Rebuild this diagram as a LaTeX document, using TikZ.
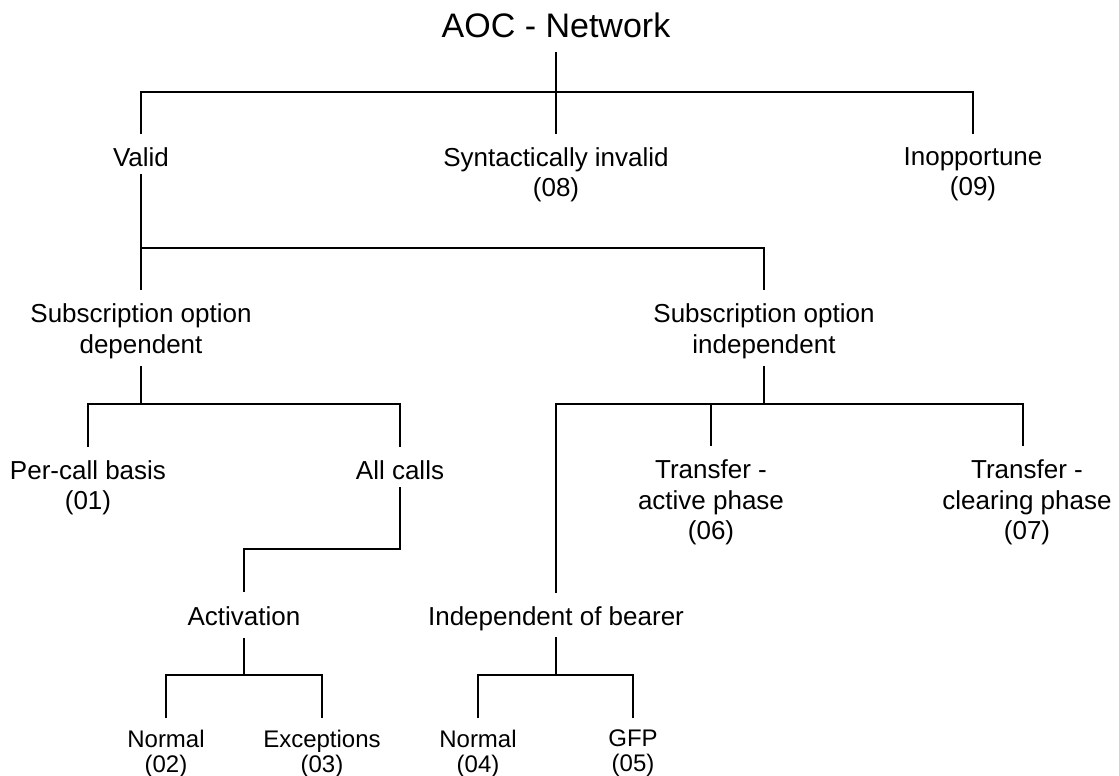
\documentclass[tikz,border=0pt]{standalone}
\usepackage{fontspec}
\setmainfont{Liberation Sans}
\begin{document}
\begin{tikzpicture}[x=1pt,y=-1pt,line width=1.7pt,
        lbl/.style={inner sep=0pt,anchor=north,align=center,font=\fontsize{26}{30.5}\selectfont},
        leaf/.style={lbl,font=\fontsize{24}{25}\selectfont}]
        % keep the page as large as the picture
        \useasboundingbox (0,0) rectangle (1119,776);

        % draw the title and the first level
        \node[lbl,font=\fontsize{34}{40}\selectfont] (aoc) at (556,11.7) {AOC - Network};
        \node[lbl] (valid) at (141,146.7) {Valid};
        \node[lbl] (syn)   at (556,146.7) {Syntactically invalid\\(08)};
        \node[lbl] (inopp) at (973,146.7) {Inopportune\\(09)};

        % draw the subscription options
        \node[lbl] (subdep) at (141,303) {Subscription option\\dependent};
        \node[lbl] (subind) at (764,303) {Subscription option\\independent};

        % draw the third level
        \node[lbl] (percall)  at (88,459.5)   {Per-call basis\\(01)};
        \node[lbl] (allcalls) at (400,459.5)  {All calls};
        \node[lbl] (tact)     at (711,459)    {Transfer -\\active phase\\(06)};
        \node[lbl] (tclr)     at (1027,459)   {Transfer -\\clearing phase\\(07)};
        \node[lbl] (act)      at (244,606)    {Activation};
        \node[lbl] (indep)    at (556,606)    {Independent of bearer};

        % draw the leaves at the bottom
        \node[leaf] (n02) at (166,729) {Normal\\(02)};
        \node[leaf] (x03) at (322,729) {Exceptions\\(03)};
        \node[leaf] (n04) at (478,729) {Normal\\(04)};
        \node[leaf] (gfp) at (633,729) {GFP\\(05)};

        % the junctions where the lines branch
        \coordinate (j0) at (556,92);
        \coordinate (j1) at (141,247.7);
        \coordinate (j2) at (141,404);
        \coordinate (j3) at (400,549.3);
        \coordinate (j4) at (244,675);
        \coordinate (j5) at (764,404);
        \coordinate (j6) at (556,675);

        % draw the connectors of the tree
        \draw ([yshift=-14pt]aoc.south) -- ([yshift=13pt]syn.north);
        \draw ([yshift=13pt]valid.north) |- (j0) -| ([yshift=13pt]inopp.north);

        \draw ([yshift=-7pt]valid.south) -- ([yshift=13pt]subdep.north);
        \draw (j1) -| ([yshift=13pt]subind.north);

        \draw ([yshift=-7pt]subdep.south) -- (j2);
        \draw ([yshift=13pt]percall.north) |- (j2) -| ([yshift=13pt]allcalls.north);

        \draw ([yshift=-7pt]allcalls.south) -- (j3) -| ([yshift=14pt]act.north);
        \draw ([yshift=-11pt]act.south) -- (j4);
        \draw ([yshift=11pt]n02.north) |- (j4) -| ([yshift=11pt]x03.north);

        \draw ([yshift=-7pt]subind.south) -- (j5);
        \draw ([yshift=13pt]indep.north) |- (j5) -| ([xshift=-4pt,yshift=13pt]tclr.north);
        \draw ([yshift=13pt]tact.north) -- (tact.north |- j5);

        \draw ([yshift=-5.5pt]indep.south) -- (j6);
        \draw ([yshift=11pt]n04.north) |- (j6) -| ([yshift=11pt]gfp.north);
\end{tikzpicture}
\end{document}
